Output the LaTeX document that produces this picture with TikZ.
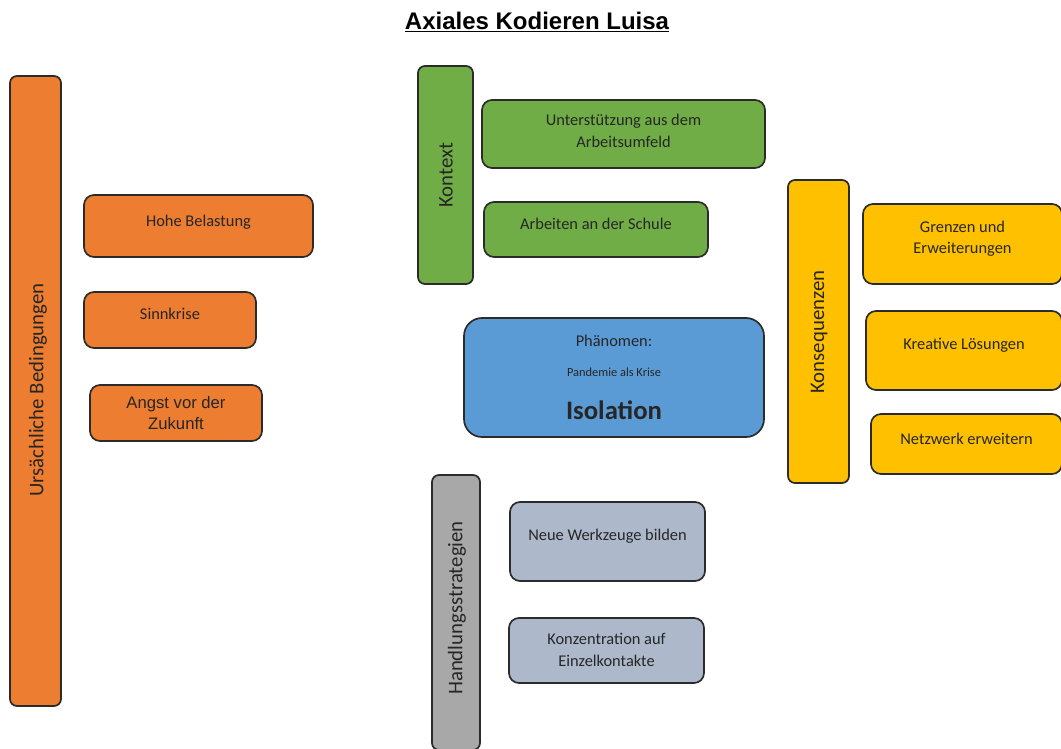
\documentclass[tikz,border=0pt]{standalone}
\usepackage{fontspec}
\setmainfont{Carlito}
\newfontfamily\arialfont{Liberation Sans}
\newdimen\pxu \pxu=0.75pt
\definecolor{orangeF}{HTML}{ED7D31}
\definecolor{greenF}{HTML}{70AD47}
\definecolor{blueF}{HTML}{5B9BD5}
\definecolor{yellowF}{HTML}{FFC000}
\definecolor{greyF}{HTML}{A8A8A8}
\definecolor{slateF}{HTML}{ADB9CA}
\definecolor{edge}{HTML}{2B2B2B}
\definecolor{ink}{HTML}{262626}
\tikzset{
  panel/.style={draw=edge, line width=1.7\pxu, rounded corners=10\pxu, inner sep=0pt},
  bar/.style={panel, rounded corners=7\pxu},
  lbl/.style={text=ink, font=\fontsize{12.3}{16}\selectfont, align=center, inner sep=0pt},
  arlbl/.style={text=ink, font=\arialfont\fontsize{12.5}{15.8}\selectfont, align=center, inner sep=0pt},
  vlbl/.style={text=ink, font=\fontsize{15.6}{18}\selectfont, rotate=90, inner sep=0pt},
}
\begin{document}
\begin{tikzpicture}[x=0.75pt, y=-0.75pt]
\useasboundingbox (0,0) rectangle (1061,749);
\clip (0,0) rectangle (1061,749);

% title
\node[text=black, font=\arialfont\bfseries\fontsize{18}{22}\selectfont, inner sep=0pt] (title) at (537,22) {\underline{Axiales Kodieren Luisa}};

% causal conditions
\node[bar, fill=orangeF, minimum width=51\pxu, minimum height=630\pxu] (ub) at (35.5,391) {};
\node[vlbl] (ubt) at (38,390) {Ursächliche Bedingungen};
\node[panel, fill=orangeF, minimum width=229\pxu, minimum height=62\pxu] (hohe) at (198.5,226) {};
\node[lbl] (hohet) at (198.5,222) {Hohe Belastung};
\node[panel, fill=orangeF, minimum width=172\pxu, minimum height=56\pxu] (sinn) at (170,320) {};
\node[lbl] (sinnt) at (170,314) {Sinnkrise};
\node[panel, fill=orangeF, minimum width=172\pxu, minimum height=56\pxu] (angst) at (176,413) {};
\node[arlbl] (angstt) at (176,413) {Angst vor der\\Zukunft};

% context
\node[bar, fill=greenF, minimum width=55\pxu, minimum height=218\pxu] (kon) at (445.5,175) {};
\node[vlbl] (kont) at (446,175) {Kontext};
\node[panel, fill=greenF, minimum width=283\pxu, minimum height=68\pxu] (unter) at (623.5,134) {};
\node[lbl] (untert) at (623.5,131) {Unterstützung aus dem\\Arbeitsumfeld};
\node[panel, fill=greenF, minimum width=224\pxu, minimum height=55\pxu] (schule) at (596,229.5) {};
\node[lbl] (schulet) at (596,224) {Arbeiten an der Schule};

% phenomenon
\node[panel, fill=blueF, rounded corners=18\pxu, minimum width=300\pxu, minimum height=119\pxu] (phen) at (614,377.5) {};
\node[lbl] (phent) at (614,341) {Phänomen:};
\node[lbl, font=\fontsize{9.3}{11}\selectfont] (pand) at (614,372) {Pandemie als Krise};
\node[lbl, font=\bfseries\fontsize{20}{24}\selectfont] (iso) at (614,410) {Isolation};

% consequences
\node[bar, fill=yellowF, minimum width=61\pxu, minimum height=303\pxu] (kons) at (818.5,331.5) {};
\node[vlbl] (konst) at (819,332) {Konsequenzen};
\node[panel, fill=yellowF, minimum width=199\pxu, minimum height=80\pxu] (grenz) at (962.5,244) {};
\node[lbl] (grenzt) at (962.5,239) {Grenzen und\\Erweiterungen};
\node[panel, fill=yellowF, minimum width=196\pxu, minimum height=79\pxu] (krea) at (964,350.5) {};
\node[lbl] (kreat) at (964,345) {Kreative Lösungen};
\node[panel, fill=yellowF, minimum width=191\pxu, minimum height=60\pxu] (netz) at (966.5,444) {};
\node[lbl] (netzt) at (966.5,439) {Netzwerk erweitern};

% action strategies
\node[bar, fill=greyF, minimum width=48\pxu, minimum height=275\pxu] (hand) at (456,612.5) {};
\node[vlbl] (handt) at (457,608) {Handlungsstrategien};
\node[panel, fill=slateF, minimum width=195\pxu, minimum height=79\pxu] (neue) at (607.5,541.5) {};
\node[lbl] (neuet) at (607.5,536) {Neue Werkzeuge bilden};
\node[panel, fill=slateF, minimum width=195\pxu, minimum height=65\pxu] (konz) at (606.5,650.5) {};
\node[lbl] (konzt) at (606.5,650) {Konzentration auf\\Einzelkontakte};
\end{tikzpicture}
\end{document}
